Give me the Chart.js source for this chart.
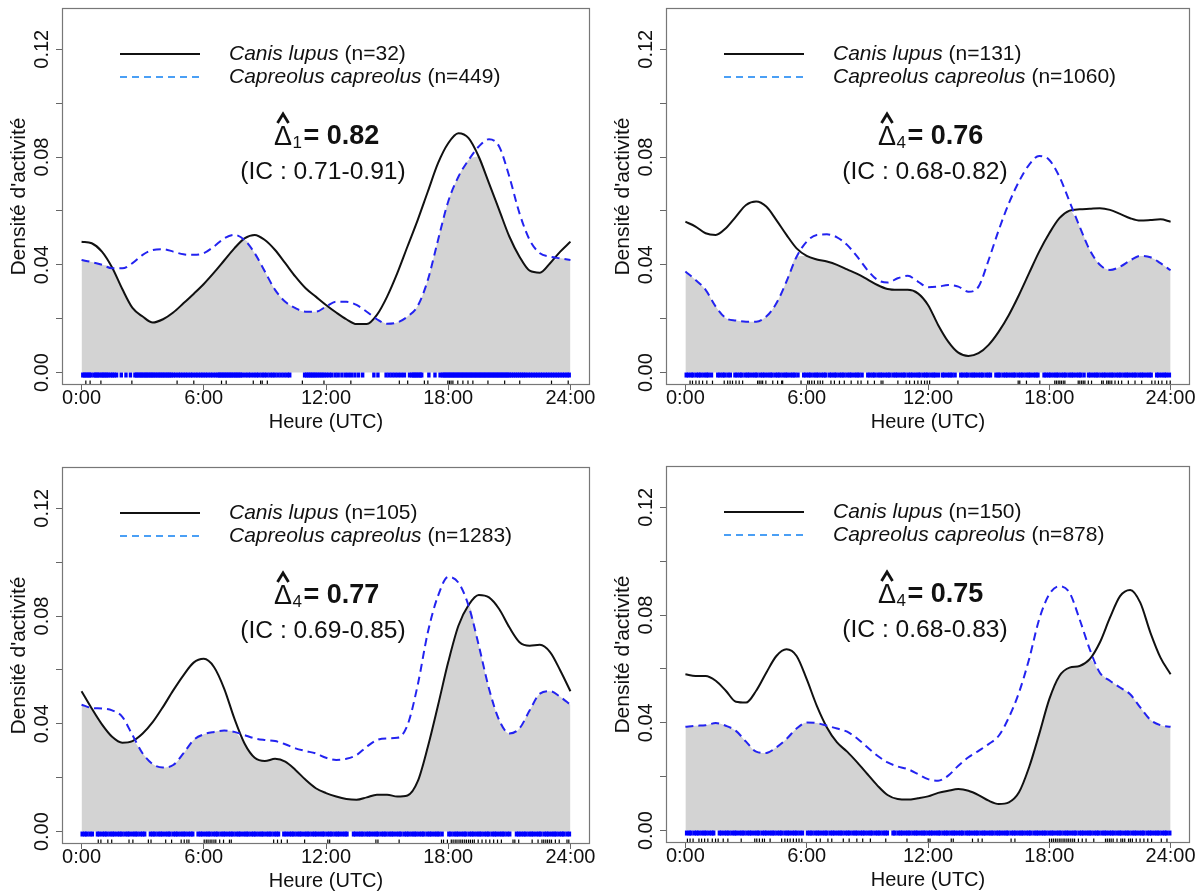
<!DOCTYPE html>
<html><head><meta charset="utf-8">
<script src="https://cdn.jsdelivr.net/npm/chart.js@4.4.0/dist/chart.umd.min.js"></script>
<style>
html,body{margin:0;padding:0;background:#fff;overflow:hidden;width:1204px;height:891px;position:relative;}
canvas{position:absolute;}
</style></head><body>
<canvas id="c1" width="602" height="445" style="left:0px;top:0px;width:602px;height:445px"></canvas>
<canvas id="c2" width="600" height="445" style="left:604px;top:0px;width:600px;height:445px"></canvas>
<canvas id="c3" width="602" height="445" style="left:0px;top:459px;width:602px;height:445px"></canvas>
<canvas id="c4" width="600" height="445" style="left:604px;top:458px;width:600px;height:445px"></canvas>
<script>
const hours = [0,0.5,1,1.5,2,2.5,3,3.5,4,4.5,5,5.5,6,6.5,7,7.5,8,8.5,9,9.5,10,10.5,11,11.5,12,12.5,13,13.5,14,14.5,15,15.5,16,16.5,17,17.5,18,18.5,19,19.5,20,20.5,21,21.5,22,22.5,23,23.5,24];
const xTickValues = [0,6,12,18,24];
const xTickLabels = ['0:00','6:00','12:00','18:00','24:00'];
const yTickValues = [0,0.02,0.04,0.06,0.08,0.10,0.12];
const yTickLabels = ['0.00','','0.04','','0.08','','0.12'];
const speciesA = 'Canis lupus';
const speciesB = 'Capreolus capreolus';
const nWolf = [32,131,105,150];
const nDeer = [449,1060,1283,878];
const deltaSub = ['1','4','4','4'];
const deltaValues = ['0.82','0.76','0.77','0.75'];
const ciLabels = ['0.71-0.91','0.68-0.82','0.69-0.85','0.68-0.83'];

const wolf1 = [0.0486,0.0480,0.0449,0.0390,0.0310,0.0240,0.0208,0.0186,0.0198,0.0223,0.0257,0.0292,0.0329,0.0371,0.0416,0.0461,0.0498,0.0511,0.0492,0.0455,0.0406,0.0356,0.0313,0.0282,0.0251,0.0223,0.0198,0.0180,0.0180,0.0214,0.0282,0.0369,0.0468,0.0566,0.0672,0.0777,0.0851,0.0888,0.0870,0.0801,0.0703,0.0604,0.0505,0.0430,0.0378,0.0371,0.0406,0.0449,0.0486];
const deer1 = [0.0418,0.0410,0.0400,0.0387,0.0387,0.0406,0.0437,0.0455,0.0458,0.0449,0.0439,0.0437,0.0443,0.0468,0.0498,0.0511,0.0492,0.0443,0.0375,0.0307,0.0263,0.0239,0.0226,0.0226,0.0245,0.0263,0.0263,0.0251,0.0226,0.0198,0.0181,0.0186,0.0208,0.0247,0.0344,0.0492,0.0635,0.0727,0.0789,0.0839,0.0866,0.0839,0.0727,0.0591,0.0492,0.0443,0.0430,0.0424,0.0418];
const wolf2 = [0.0560,0.0542,0.0517,0.0511,0.0536,0.0579,0.0622,0.0635,0.0616,0.0566,0.0511,0.0461,0.0433,0.0420,0.0412,0.0400,0.0383,0.0366,0.0346,0.0325,0.0310,0.0307,0.0307,0.0294,0.0251,0.0177,0.0115,0.0074,0.0062,0.0072,0.0103,0.0152,0.0214,0.0288,0.0369,0.0449,0.0517,0.0573,0.0601,0.0606,0.0608,0.0610,0.0604,0.0589,0.0573,0.0564,0.0566,0.0569,0.0560];
const deer2 = [0.0375,0.0344,0.0307,0.0245,0.0202,0.0193,0.0189,0.0189,0.0208,0.0257,0.0338,0.0430,0.0486,0.0511,0.0513,0.0502,0.0474,0.0430,0.0381,0.0344,0.0334,0.0350,0.0359,0.0338,0.0317,0.0319,0.0325,0.0319,0.0300,0.0319,0.0418,0.0529,0.0628,0.0709,0.0771,0.0804,0.0789,0.0727,0.0635,0.0542,0.0455,0.0400,0.0381,0.0393,0.0416,0.0433,0.0428,0.0406,0.0380];
const wolf3 = [0.0521,0.0457,0.0398,0.0352,0.0330,0.0336,0.0364,0.0407,0.0463,0.0524,0.0580,0.0627,0.0641,0.0611,0.0531,0.0420,0.0327,0.0274,0.0262,0.0270,0.0260,0.0229,0.0192,0.0161,0.0143,0.0130,0.0121,0.0118,0.0127,0.0137,0.0137,0.0130,0.0134,0.0186,0.0315,0.0469,0.0629,0.0764,0.0841,0.0878,0.0869,0.0826,0.0758,0.0703,0.0690,0.0693,0.0666,0.0598,0.0521];
const deer3 = [0.0471,0.0459,0.0457,0.0450,0.0426,0.0358,0.0290,0.0250,0.0238,0.0247,0.0290,0.0340,0.0361,0.0370,0.0375,0.0370,0.0358,0.0346,0.0340,0.0336,0.0324,0.0309,0.0299,0.0290,0.0274,0.0266,0.0270,0.0284,0.0315,0.0340,0.0346,0.0348,0.0395,0.0543,0.0740,0.0875,0.0945,0.0924,0.0838,0.0691,0.0531,0.0414,0.0364,0.0383,0.0450,0.0512,0.0521,0.0500,0.0471];
const wolf4 = [0.0580,0.0574,0.0574,0.0556,0.0519,0.0478,0.0475,0.0519,0.0586,0.0648,0.0673,0.0648,0.0562,0.0463,0.0383,0.0327,0.0293,0.0253,0.0210,0.0167,0.0132,0.0117,0.0115,0.0120,0.0127,0.0140,0.0148,0.0154,0.0148,0.0132,0.0111,0.0099,0.0105,0.0142,0.0235,0.0358,0.0488,0.0574,0.0605,0.0611,0.0636,0.0698,0.0790,0.0870,0.0893,0.0846,0.0735,0.0642,0.0580];
const deer4 = [0.0385,0.0389,0.0391,0.0399,0.0389,0.0370,0.0330,0.0293,0.0288,0.0309,0.0340,0.0379,0.0401,0.0399,0.0389,0.0379,0.0367,0.0342,0.0309,0.0278,0.0253,0.0238,0.0228,0.0210,0.0191,0.0185,0.0204,0.0241,0.0272,0.0296,0.0321,0.0352,0.0420,0.0512,0.0636,0.0784,0.0877,0.0907,0.0883,0.0784,0.0673,0.0586,0.0556,0.0531,0.0506,0.0457,0.0411,0.0391,0.0385];

const wolfRug1 = [0.21,0.42,0.95,2.47,4.69,5.51,6.87,7.1,8.43,8.79,8.87,9.12,10.84,11.9,13.22,15.6,16.01,16.83,17.0,17.98,18.06,18.14,18.23,18.47,18.72,18.97,19.21,19.95,20.77,21.51,23.07,23.89];
const wolfRug2 = [0.23,0.35,0.52,0.68,0.85,1.06,1.34,1.92,2.09,2.21,2.33,2.5,2.66,2.83,3.57,3.65,3.74,3.82,3.98,4.32,4.56,4.76,4.81,5.72,6.05,6.13,6.25,6.38,6.55,6.67,6.79,7.2,7.37,7.62,7.86,8.2,8.53,8.69,9.02,9.35,9.68,9.77,10.51,10.92,11.09,11.33,11.5,11.67,11.83,11.96,12.08,13.48,16.46,16.54,16.87,17.53,18.27,18.35,18.44,18.52,18.6,18.69,18.77,19.43,19.51,19.6,19.68,19.76,19.93,20.09,20.59,20.67,20.84,20.92,21.0,21.09,21.25,21.42,21.58,21.91,22.24,22.57,23.07,23.23,23.4,23.57,23.81,23.98];
const wolfRug3 = [0.82,0.95,1.29,1.48,2.33,2.52,3.28,3.41,4.13,4.42,4.89,5.04,5.17,5.27,6.02,6.12,6.21,6.31,6.4,6.5,6.59,6.78,6.97,7.26,7.35,9.43,9.62,9.81,10.1,10.95,12.09,12.18,14.45,14.55,15.59,17.67,17.77,17.96,18.15,18.24,18.34,18.43,18.53,18.62,18.71,18.81,18.9,19.0,19.09,19.19,19.28,19.47,19.66,19.85,20.04,20.23,20.42,20.61,21.18,21.27,21.46,22.12,22.41,22.6,22.69,22.79,22.88,22.98,23.07,23.26,23.45,23.83,23.92];
const wolfRug4 = [0.1,0.23,0.38,0.67,0.8,0.95,1.11,1.33,1.49,1.62,1.87,2.1,2.76,3.43,3.53,3.66,3.81,3.91,4.19,4.76,4.92,5.05,5.18,5.34,5.49,5.62,5.76,6.48,6.67,7.05,7.24,7.81,8.1,8.48,8.77,9.15,9.91,10.96,12.01,12.1,13.15,13.25,14.2,14.48,14.68,16.11,16.3,18.01,18.11,18.2,18.3,18.39,18.49,18.58,18.68,18.77,18.87,18.96,19.06,19.16,19.25,19.44,19.63,19.82,20.2,20.78,20.87,20.97,21.06,21.16,21.35,21.54,21.63,21.73,21.92,22.01,22.11,22.3,22.49,22.68,22.87,23.06,23.54,23.82];

const deerRug1 = [0.06,0.14,0.22,0.31,0.38,0.47,0.62,0.7,0.78,0.86,0.97,1.05,1.13,1.22,1.3,1.41,1.52,1.6,1.72,1.95,2.18,2.4,2.62,2.7,2.78,2.87,2.95,3.03,3.12,3.2,3.28,3.37,3.45,3.53,3.62,3.71,3.8,3.88,3.97,4.05,4.14,4.23,4.31,4.4,4.5,4.62,4.75,4.86,4.98,5.1,5.22,5.35,5.46,5.6,5.72,5.85,5.96,6.08,6.2,6.33,6.45,6.58,6.7,6.78,6.86,6.95,7.03,7.12,7.2,7.29,7.37,7.46,7.55,7.63,7.72,7.8,7.9,8.05,8.18,8.3,8.45,8.58,8.7,8.85,8.97,9.1,9.25,9.38,9.5,9.65,9.8,9.95,10.1,10.22,10.95,11.05,11.14,11.23,11.32,11.41,11.5,11.6,11.7,11.8,11.9,12.02,12.15,12.28,12.45,12.6,12.78,12.95,13.1,13.25,13.42,13.6,13.8,14.35,14.55,14.95,15.1,15.25,15.4,15.55,15.7,15.85,16.1,16.22,16.3,16.38,16.46,16.55,16.63,16.7,17.05,17.35,17.6,17.72,17.8,17.88,17.96,18.04,18.12,18.2,18.28,18.36,18.44,18.52,18.6,18.68,18.76,18.84,18.92,19.0,19.08,19.16,19.24,19.32,19.4,19.48,19.56,19.64,19.72,19.8,19.88,19.96,20.04,20.12,20.2,20.28,20.36,20.44,20.52,20.6,20.68,20.76,20.84,20.92,21.0,21.1,21.2,21.3,21.4,21.5,21.6,21.7,21.8,21.92,22.04,22.16,22.28,22.4,22.52,22.64,22.76,22.88,23.0,23.12,23.24,23.36,23.48,23.6,23.72,23.84,23.94];
const deerRug2 = [0.04,0.15,0.29,0.38,0.54,0.66,0.76,0.91,1.04,1.13,1.29,1.6,1.71,1.85,1.94,2.1,2.22,2.45,2.56,2.7,2.79,2.95,3.07,3.17,3.32,3.45,3.54,3.7,3.82,3.92,4.07,4.2,4.29,4.45,4.57,4.67,4.82,4.95,5.04,5.2,5.32,5.42,5.57,5.85,5.96,6.1,6.19,6.35,6.47,6.57,6.72,6.85,6.94,7.12,7.23,7.37,7.46,7.62,7.74,7.84,7.99,8.12,8.21,8.37,8.49,8.59,8.74,9.02,9.13,9.27,9.36,9.52,9.64,9.74,9.89,10.02,10.11,10.27,10.39,10.49,10.64,10.77,10.86,11.02,11.14,11.24,11.39,11.52,11.61,11.77,11.89,11.99,12.14,12.27,12.36,12.52,12.72,12.81,12.97,13.09,13.19,13.34,13.62,13.73,13.87,13.96,14.12,14.24,14.34,14.49,14.62,14.71,14.87,14.99,15.09,15.36,15.47,15.56,15.72,15.84,15.94,16.09,16.22,16.31,16.47,16.59,16.69,16.84,16.97,17.06,17.22,17.34,17.44,17.74,17.84,17.97,18.07,18.22,18.34,18.44,18.59,18.72,18.81,18.97,19.09,19.19,19.34,19.47,19.56,19.72,19.94,20.04,20.19,20.31,20.41,20.56,20.69,20.79,20.94,21.06,21.16,21.31,21.44,21.54,21.69,21.81,21.91,22.06,22.19,22.29,22.44,22.56,22.66,22.81,22.94,23.04,23.31,23.41,23.56,23.69,23.79,23.94];
const deerRug3 = [0.03,0.16,0.26,0.41,0.53,0.78,0.87,1.02,1.14,1.24,1.39,1.51,1.61,1.76,1.88,1.98,2.13,2.26,2.35,2.51,2.63,2.73,2.88,3.0,3.1,3.38,3.5,3.6,3.75,3.87,3.97,4.12,4.25,4.34,4.5,4.62,4.72,4.87,4.99,5.09,5.24,5.37,5.46,5.72,5.84,5.94,6.09,6.21,6.31,6.46,6.59,6.68,6.84,6.96,7.06,7.21,7.33,7.43,7.58,7.71,7.8,7.96,8.08,8.18,8.33,8.45,8.55,8.7,8.83,8.92,9.08,9.2,9.3,9.45,9.57,9.67,9.93,10.05,10.2,10.32,10.42,10.57,10.7,10.79,10.95,11.07,11.17,11.32,11.44,11.54,11.69,11.82,11.91,12.07,12.19,12.29,12.44,12.56,12.66,12.81,12.94,13.03,13.35,13.45,13.6,13.72,13.82,13.97,14.09,14.19,14.34,14.47,14.56,14.72,14.84,14.94,15.09,15.21,15.31,15.46,15.59,15.68,15.84,15.96,16.06,16.21,16.33,16.43,16.58,16.71,16.8,16.96,17.08,17.18,17.33,17.45,17.55,17.7,18.03,18.13,18.28,18.4,18.5,18.65,18.78,18.87,19.03,19.15,19.25,19.4,19.52,19.62,19.77,19.9,19.99,20.15,20.27,20.37,20.52,20.64,20.74,20.89,21.02,21.35,21.46,21.58,21.71,21.81,21.96,22.08,22.18,22.33,22.46,22.55,22.71,22.83,22.93,23.08,23.2,23.3,23.45,23.58,23.67,23.83,23.95];
const deerRug4 = [0.06,0.19,0.28,0.44,0.56,0.66,0.81,0.93,1.03,1.18,1.31,1.4,1.68,1.78,1.93,2.05,2.15,2.3,2.43,2.52,2.68,2.8,2.9,3.05,3.17,3.27,3.42,3.55,3.64,3.8,3.92,4.02,4.17,4.29,4.39,4.54,4.67,4.76,4.92,5.04,5.14,5.29,5.41,5.51,5.66,5.79,6.04,6.16,6.26,6.41,6.53,6.63,6.78,6.91,7.0,7.16,7.28,7.38,7.53,7.65,7.75,7.9,8.03,8.12,8.28,8.4,8.5,8.65,8.77,8.87,9.02,9.15,9.24,9.4,9.52,9.62,9.77,9.89,9.99,10.27,10.36,10.52,10.64,10.74,10.89,11.01,11.11,11.26,11.39,11.48,11.64,11.76,11.86,12.01,12.13,12.23,12.38,12.51,12.6,12.76,12.88,12.98,13.13,13.25,13.35,13.5,13.63,13.72,13.88,14.0,14.1,14.25,14.37,14.47,14.62,14.75,14.84,15.0,15.12,15.22,15.37,15.49,15.59,15.74,15.87,15.96,16.12,16.24,16.34,16.49,16.61,16.71,16.86,16.99,17.08,17.24,17.36,17.46,17.61,17.73,17.83,17.98,18.11,18.2,18.36,18.48,18.58,18.73,18.85,18.95,19.1,19.23,19.32,19.48,19.6,19.7,19.85,19.97,20.07,20.22,20.35,20.44,20.6,20.72,20.82,20.97,21.09,21.19,21.34,21.47,21.56,21.72,21.84,21.94,22.09,22.21,22.31,22.46,22.59,22.68,22.84,22.96,23.06,23.21,23.33,23.43,23.58,23.71,23.8,23.96];

const FONT = "'Liberation Sans', Arial, sans-serif";
const RUG_DEER_Y = -0.0009;
const RUG_WOLF_Y = -0.0037;

const decor = {
  id: 'decor',
  afterDraw(chart, args, opts) {
    const i = opts.idx;
    const ctx = chart.ctx;
    const a = chart.chartArea;
    const L = a.left, T = a.top;
    ctx.save();
    ctx.strokeStyle = '#777';
    ctx.lineWidth = 1.2;
    ctx.setLineDash([]);
    ctx.strokeRect(Math.round(a.left) + 0.5, Math.round(a.top) + 0.5, Math.round(a.right - a.left) - 1, Math.round(a.bottom - a.top) - 1);
    ctx.fillStyle = '#111';
    ctx.font = '20px ' + FONT;
    ctx.textAlign = 'center';
    ctx.textBaseline = 'middle';
    yTickValues.forEach((v, k) => {
      if (!yTickLabels[k]) return;
      const py = chart.scales.y.getPixelForValue(v);
      ctx.save();
      ctx.translate(L - 20, py);
      ctx.rotate(-Math.PI / 2);
      ctx.fillText(yTickLabels[k], 0, 0);
      ctx.restore();
    });
    ctx.lineWidth = 2;
    ctx.strokeStyle = '#111';
    ctx.beginPath(); ctx.moveTo(L + 58, T + 46); ctx.lineTo(L + 138, T + 46); ctx.stroke();
    ctx.strokeStyle = '#4a9ff5';
    ctx.setLineDash([7, 5]);
    ctx.beginPath(); ctx.moveTo(L + 58, T + 69); ctx.lineTo(L + 138, T + 69); ctx.stroke();
    ctx.setLineDash([]);
    ctx.textAlign = 'left';
    ctx.textBaseline = 'middle';
    const legendRow = (name, n, y) => {
      ctx.font = 'italic 21px ' + FONT;
      ctx.fillText(name, L + 167, y);
      const w = ctx.measureText(name).width;
      ctx.font = '21px ' + FONT;
      ctx.fillText(' (n=' + n + ')', L + 167 + w, y);
    };
    legendRow(speciesA, nWolf[i], T + 46);
    legendRow(speciesB, nDeer[i], T + 69);
    ctx.textBaseline = 'alphabetic';
    const x0 = L + 212;
    ctx.font = '27px ' + FONT;
    ctx.fillText('\u0394', x0, T + 137);
    const dw = ctx.measureText('\u0394').width;
    const hx = x0 + dw / 2;
    ctx.lineWidth = 2.8;
    ctx.lineJoin = 'miter';
    ctx.strokeStyle = '#111';
    ctx.beginPath(); ctx.moveTo(hx - 5.5, T + 115); ctx.lineTo(hx, T + 106); ctx.lineTo(hx + 5.5, T + 115); ctx.stroke();
    ctx.font = '17px ' + FONT;
    ctx.fillText(deltaSub[i], x0 + dw + 0.5, T + 140);
    const sw = ctx.measureText(deltaSub[i]).width;
    ctx.font = 'bold 27px ' + FONT;
    ctx.fillText('= ' + deltaValues[i], x0 + dw + sw + 2, T + 136);
    ctx.save();
    ctx.translate((a.left + a.right) / 2 - 3, T + 165);
    ctx.scale(1.07, 1);
    ctx.font = '23px ' + FONT;
    ctx.textAlign = 'center';
    ctx.textBaseline = 'middle';
    ctx.fillText('(IC : ' + ciLabels[i] + ')', 0, 0);
    ctx.restore();
    ctx.restore();
  }
};

function makePanel(id, idx, wolf, deer, wolfRug, deerRug, padRight) {
  const overlap = hours.map((h, k) => ({x: h, y: Math.min(wolf[k], deer[k])}));
  new Chart(document.getElementById(id), {
    type: 'line',
    data: {
      datasets: [
        {label: 'deerRug', data: deerRug.map(h => ({x: h, y: RUG_DEER_Y})), showLine: false, pointStyle: 'line', pointRotation: 90, pointRadius: 2.5, pointBorderColor: '#0000ff', pointBorderWidth: 3.4, pointBackgroundColor: '#0000ff', order: 1, clip: false},
        {label: 'wolfRug', data: wolfRug.map(h => ({x: h, y: RUG_WOLF_Y})), showLine: false, pointStyle: 'line', pointRotation: 90, pointRadius: 2, pointBorderColor: '#000', pointBorderWidth: 1.2, pointBackgroundColor: '#000', order: 0, clip: false},
        {label: speciesB, data: hours.map((h, k) => ({x: h, y: deer[k]})), borderColor: '#2323f0', borderWidth: 2, borderDash: [8, 5], pointRadius: 0, fill: false, cubicInterpolationMode: 'monotone', order: 2},
        {label: speciesA, data: hours.map((h, k) => ({x: h, y: wolf[k]})), borderColor: '#111', borderWidth: 2, pointRadius: 0, fill: false, cubicInterpolationMode: 'monotone', order: 3},
        {label: 'overlap', data: overlap, borderWidth: 0, borderColor: 'rgba(0,0,0,0)', backgroundColor: '#d3d3d3', fill: 'origin', pointRadius: 0, cubicInterpolationMode: 'monotone', order: 4}
      ]
    },
    options: {
      responsive: false,
      animation: false,
      devicePixelRatio: 1,
      events: [],
      layout: {padding: {left: 0, top: 8, right: padRight, bottom: 0}},
      plugins: {legend: {display: false}, tooltip: {enabled: false}, decor: {idx: idx}},
      scales: {
        x: {
          type: 'linear', min: -0.96, max: 24.96,
          afterBuildTicks: s => { s.ticks = xTickValues.map(v => ({value: v})); },
          afterFit: s => { s.height = 60; },
          grid: {display: true, drawOnChartArea: false, drawTicks: true, tickLength: 5, tickColor: '#666', tickWidth: 1},
          border: {display: false},
          ticks: {autoSkip: false, maxRotation: 0, minRotation: 0, padding: -4, color: '#111', font: {family: FONT, size: 20},
            callback: v => { const k = xTickValues.indexOf(v); return k >= 0 ? xTickLabels[k] : ''; }},
          title: {display: true, text: 'Heure (UTC)', color: '#111', font: {family: FONT, size: 20}, padding: {top: 0, bottom: 11}}
        },
        y: {
          type: 'linear', min: -0.0046, max: 0.1353,
          afterBuildTicks: s => { s.ticks = yTickValues.map(v => ({value: v})); },
          afterFit: s => { s.width = 62; },
          grid: {display: true, drawOnChartArea: false, drawTicks: true, tickLength: 6, tickColor: '#666', tickWidth: 1},
          border: {display: false},
          ticks: {display: false},
          title: {display: true, text: "Densité d'activité", color: '#111', font: {family: FONT, size: 21}, padding: {top: 7, bottom: 0}}
        }
      }
    },
    plugins: [decor]
  });
}

makePanel('c1', 0, wolf1, deer1, wolfRug1, deerRug1, 12);
makePanel('c2', 1, wolf2, deer2, wolfRug2, deerRug2, 14);
makePanel('c3', 2, wolf3, deer3, wolfRug3, deerRug3, 12);
makePanel('c4', 3, wolf4, deer4, wolfRug4, deerRug4, 14);
</script>
</body></html>
